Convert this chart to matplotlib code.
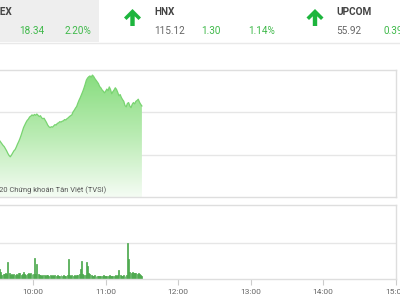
import numpy as np
import matplotlib
matplotlib.use("Agg")
import matplotlib.pyplot as plt
from matplotlib.patches import Rectangle, Polygon
from matplotlib.colors import LinearSegmentedColormap

plt.rcParams['font.family'] = ['Roboto', 'DejaVu Sans']

# ---- data ----
start_minute = 30   # minutes after 09:00
price = [843.8, 843.5, 843.4, 843.0, 842.6, 842.2, 841.9, 841.4, 840.9, 840.3,
         839.8, 839.5, 839.9, 840.4, 840.9, 841.2, 841.8, 842.5, 843.1, 843.8,
         844.6, 845.5, 846.4, 847.0, 847.6, 848.1, 848.4, 848.9, 849.1, 849.4,
         849.2, 849.5, 849.3, 849.6, 849.3, 849.0, 849.2, 848.7, 848.5, 848.6,
         848.1, 847.6, 847.0, 846.6, 846.4, 846.6, 846.5, 846.8, 847.1, 847.0,
         847.4, 847.5, 847.8, 847.7, 847.9, 848.0, 848.3, 848.2, 848.5, 848.7,
         849.0, 849.2, 849.4, 850.1, 850.5, 851.0, 851.4, 852.2, 852.9, 853.5,
         854.2, 854.9, 855.7, 856.6, 857.6, 858.1, 858.4, 858.6, 858.3, 858.8,
         858.5, 858.0, 857.6, 857.2, 856.8, 856.1, 855.8, 855.3, 855.0, 854.6,
         855.0, 855.5, 855.1, 856.0, 855.4, 854.4, 854.9, 855.3, 855.8, 855.4,
         854.7, 853.9, 854.2, 853.5, 853.0, 852.6, 851.6, 851.3, 852.1, 852.3,
         851.5, 851.1, 851.9, 852.3, 852.0, 852.6, 852.8, 853.1, 852.4, 851.9,
         851.5]
volume = [0.30, 0.22, 0.28, 0.20, 0.12, 0.15, 0.13, 0.18, 0.14, 0.47,
          0.16, 0.12, 0.14, 0.10, 0.13, 0.12, 0.15, 0.11, 0.16, 0.18,
          0.12, 0.14, 0.19, 0.13, 0.12, 0.15, 0.17, 0.13, 0.16, 0.14,
          0.13, 0.58, 0.15, 0.41, 0.14, 0.10, 0.12, 0.09, 0.11, 0.10,
          0.09, 0.11, 0.10, 0.08, 0.10, 0.09, 0.11, 0.08, 0.10, 0.09,
          0.10, 0.08, 0.09, 0.11, 0.08, 0.10, 0.09, 0.08, 0.12, 0.55,
          0.10, 0.09, 0.11, 0.08, 0.10, 0.09, 0.12, 0.10, 0.14, 0.28,
          0.49, 0.15, 0.12, 0.10, 0.46, 0.35, 0.18, 0.15, 0.10, 0.09,
          0.08, 0.10, 0.07, 0.09, 0.08, 0.07, 0.09, 0.08, 0.10, 0.08,
          0.07, 0.09, 0.08, 0.10, 0.08, 0.07, 0.09, 0.08, 0.10, 0.09,
          0.12, 0.25, 0.10, 0.09, 0.08, 0.10, 0.09, 0.12, 1.00, 0.55,
          0.20, 0.17, 0.19, 0.16, 0.18, 0.17, 0.15, 0.18, 0.14, 0.12,
          0.08]
tick_minutes = [60, 120, 180, 240, 300, 360]
tick_labels = ["10:00", "11:00", "12:00", "13:00", "14:00", "15:00"]

headers = [
    # name, value, change, pct
    ("VNINDEX", None, "18.34", "2.20%"),
    ("HNX", "115.12", "1.30", "1.14%"),
    ("UPCOM", "55.92", "0.39", None),
]

minutes = np.arange(start_minute, start_minute + len(price))

W, H = 400, 300
fig = plt.figure(figsize=(4, 3), dpi=100)
fig.patch.set_facecolor('white')

def fx(x):
    return x / W

def fy(y):
    return 1 - y / H

GRID = '#e6e6e6'
BORDER = '#dedede'
GREEN_TXT = '#3fb94a'
ARROW = '#1db53d'

# ---- header ----
fig.patches.append(Rectangle((fx(0), fy(42)), fx(99), 42 / H, transform=fig.transFigure,
                             facecolor='#eeeeee', edgecolor='none', zorder=0))
fig.add_artist(plt.Line2D([0, 1], [fy(42.5), fy(42.5)], color='#e9e9e9', lw=1, transform=fig.transFigure))

hdr_font = 7.2
fig.text(fx(12.5), fy(12), headers[0][0], ha='right', va='center', fontsize=hdr_font,
         fontweight='bold', color='#444444')
fig.text(fx(19), fy(31), headers[0][2], ha='left', va='center', fontsize=hdr_font, color=GREEN_TXT)
fig.text(fx(65), fy(31), headers[0][3], ha='left', va='center', fontsize=hdr_font, color=GREEN_TXT)

fig.text(fx(154), fy(12), headers[1][0], ha='left', va='center', fontsize=hdr_font,
         fontweight='bold', color='#444444')
fig.text(fx(154), fy(31), headers[1][1], ha='left', va='center', fontsize=hdr_font, color='#666666')
fig.text(fx(201), fy(31), headers[1][2], ha='left', va='center', fontsize=hdr_font, color=GREEN_TXT)
fig.text(fx(248), fy(31), headers[1][3], ha='left', va='center', fontsize=hdr_font, color=GREEN_TXT)

fig.text(fx(336), fy(12), headers[2][0], ha='left', va='center', fontsize=hdr_font,
         fontweight='bold', color='#444444')
fig.text(fx(336), fy(31), headers[2][1], ha='left', va='center', fontsize=hdr_font, color='#666666')
fig.text(fx(383), fy(31), headers[2][2], ha='left', va='center', fontsize=hdr_font, color=GREEN_TXT)

def up_arrow(cx):
    # chevron-like thick up arrow, in pixel coordinates
    pts = [(cx, 9), (cx + 8.5, 17.5), (cx + 6, 20), (cx + 2.2, 16.3), (cx + 2.2, 26),
           (cx - 2.2, 26), (cx - 2.2, 16.3), (cx - 6, 20), (cx - 8.5, 17.5)]
    poly = Polygon([(fx(x), fy(y)) for x, y in pts], closed=True, transform=fig.transFigure,
                   facecolor=ARROW, edgecolor='none')
    fig.patches.append(poly)

up_arrow(132.5)
up_arrow(315)

# ---- price chart ----
xlim = (32.5, 360)
axp = fig.add_axes([0, fy(197), 395.5 / W, 127 / H])
axp.set_xlim(*xlim)
axp.set_ylim(830, 860)
axp.set_yticks([840, 850])
axp.set_xticks([])
axp.tick_params(left=False, labelleft=False)
axp.grid(axis='y', color=GRID, lw=1)
axp.set_axisbelow(True)
for s in ['top', 'right', 'bottom']:
    axp.spines[s].set_color(BORDER)
    axp.spines[s].set_linewidth(1)
axp.spines['left'].set_visible(False)

poly = axp.fill_between(minutes, price, 830, color='none', lw=0)
cmap = LinearSegmentedColormap.from_list('g', ['#f5fcf4', '#b8ebb1', '#84dc7b'])
grad = np.linspace(0, 1, 256).reshape(-1, 1)
im = axp.imshow(grad, extent=[minutes[0], minutes[-1], 830, 860], origin='lower',
                cmap=cmap, aspect='auto', zorder=1)
path = poly.get_paths()[0]
im.set_clip_path(path, transform=axp.transData)
axp.plot(minutes, price, color='#79d471', lw=0.9, zorder=2)

fig.text(fx(106.5), fy(190), "© 2020 Chứng khoán Tân Việt (TVSI)", ha='right', va='center',
         fontsize=5.4, color='#555555', zorder=5)

# ---- volume chart ----
axv = fig.add_axes([0, fy(279), 395.5 / W, 74 / H])
axv.set_xlim(*xlim)
axv.set_ylim(0, 2.05)
axv.set_yticks([1.0])
axv.tick_params(left=False, labelleft=False)
axv.grid(axis='y', color=GRID, lw=1)
axv.set_axisbelow(True)
for s in ['top', 'right', 'bottom']:
    axv.spines[s].set_color(BORDER)
    axv.spines[s].set_linewidth(1)
axv.spines['left'].set_visible(False)
axv.bar(minutes, volume, width=0.8, color='#8ad884', edgecolor='#3e9e40', linewidth=0.5, zorder=2)
axv.set_xticks(tick_minutes)
axv.set_xticklabels(tick_labels)
axv.tick_params(axis='x', length=4, color='#cccccc', labelsize=6, labelcolor='#666666', pad=3)

fig.savefig('out.png', dpi=100)
